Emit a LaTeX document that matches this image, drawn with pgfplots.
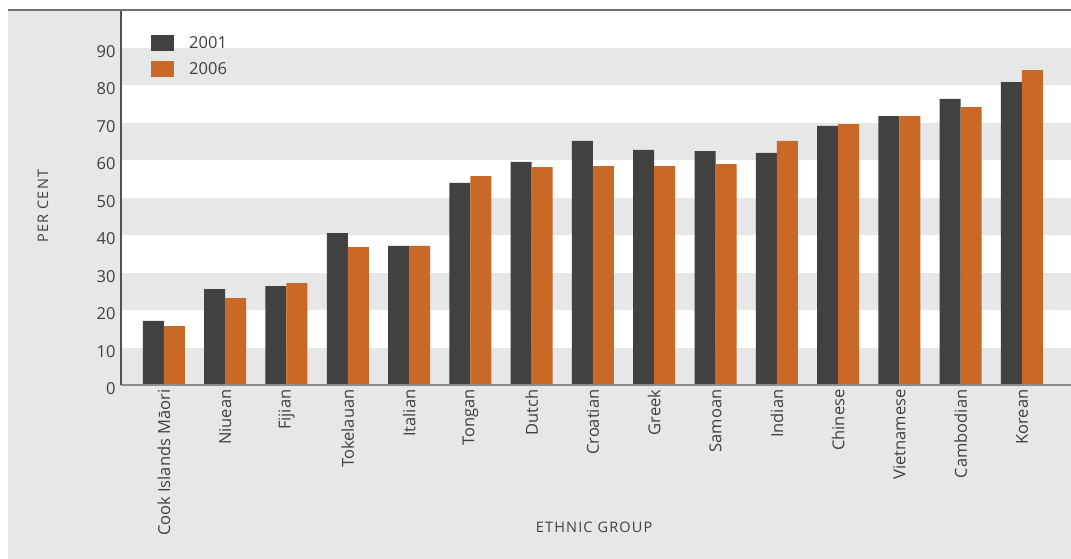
\documentclass[border=0pt]{standalone}
\usepackage{fontspec}
\setmainfont{Open Sans}
\usepackage{pgfplots}
\usepackage{pgfplotstable}
\pgfplotsset{compat=1.18}
\definecolor{darkbar}{HTML}{414141}
\definecolor{orangebar}{HTML}{CA6827}
\definecolor{bandgray}{HTML}{E6E7E8}
\definecolor{labeltext}{HTML}{404040}
\definecolor{topline}{HTML}{707070}
\definecolor{baseline}{HTML}{8C8C8C}
\definecolor{leftline}{HTML}{505050}
\pgfplotstableread{
x a b
0 17.1 15.7
1 25.6 23.2
2 26.4 27.2
3 40.5 36.8
4 37.1 37.1
5 53.9 55.7
6 59.5 58.1
7 65.1 58.4
8 62.7 58.4
9 62.4 58.9
10 61.9 65.1
11 69.1 69.6
12 71.7 71.7
13 76.3 74.1
14 80.8 84.0
}\datatable
\begin{document}
\begin{tikzpicture}
\fill[white] (0pt,0pt) rectangle (1071pt,-559pt);
\fill[bandgray] (8pt,-10pt) rectangle (1071pt,-559pt);
\fill[white] (121pt,-10pt) rectangle (1071pt,-385pt);
\begin{axis}[
  at={(121pt,-385pt)}, anchor=south west,
  scale only axis, width=950pt, height=375pt,
  xmin=-0.7, xmax=14.8, ymin=0, ymax=100,
  axis lines=left, axis line style={-},
  x axis line style={draw=baseline, line width=1.5pt},
  y axis line style={draw=leftline, line width=1.2pt},
  axis on top,
  ytick={0,10,...,90},
  xtick={0,...,14},
  xticklabels={Cook Islands Māori,Niuean,Fijian,Tokelauan,Italian,Tongan,Dutch,Croatian,Greek,Samoan,Indian,Chinese,Vietnamese,Cambodian,Korean},
  major tick length=0pt,
  /pgf/number format/assume math mode=true,
  yticklabel style={font=\fontsize{16.5}{19}\selectfont, text=labeltext, xshift=-2pt, yshift=-4pt},
  xticklabel style={rotate=90, anchor=east, font=\fontsize{16.5}{19}\selectfont, text=labeltext, xshift=-1pt},
  ylabel={PER CENT},
  ylabel style={at={(axis description cs:-0.0821,0.477)}, anchor=center, font=\fontsize{14.5}{17}\selectfont\addfontfeatures{LetterSpace=8}, text=labeltext},
  xlabel={ETHNIC GROUP},
  xlabel style={at={(axis description cs:0.498,-0.379)}, anchor=center, font=\fontsize{14.5}{17}\selectfont\addfontfeatures{LetterSpace=8}, text=labeltext},
  ybar=0pt, bar width=21pt,
  legend style={at={(axis description cs:0.0316,0.9333)}, anchor=north west, draw=none, fill=none, inner sep=0pt, row sep=10pt, column sep=15pt, font=\fontsize{16.5}{19}\selectfont, text=labeltext, nodes={inner sep=0pt}},
  legend cell align=left,
  legend image code/.code={\fill[#1] (0pt,-8pt) rectangle (23pt,8pt);},
]
\fill[bandgray] (axis cs:-0.7,0) rectangle (axis cs:14.8,10);
\fill[bandgray] (axis cs:-0.7,20) rectangle (axis cs:14.8,30);
\fill[bandgray] (axis cs:-0.7,40) rectangle (axis cs:14.8,50);
\fill[bandgray] (axis cs:-0.7,60) rectangle (axis cs:14.8,70);
\fill[bandgray] (axis cs:-0.7,80) rectangle (axis cs:14.8,90);
\addplot[fill=darkbar, draw=none] table[x=x, y=a] {\datatable};
\addplot[fill=orangebar, draw=none] table[x=x, y=b] {\datatable};
\legend{2001,2006}
\end{axis}
\draw[topline, line width=2pt] (8pt,-10pt) -- (1071pt,-10pt);
\pgfresetboundingbox
\path (0pt,0pt) rectangle (1071pt,-559pt);
\end{tikzpicture}
\end{document}
